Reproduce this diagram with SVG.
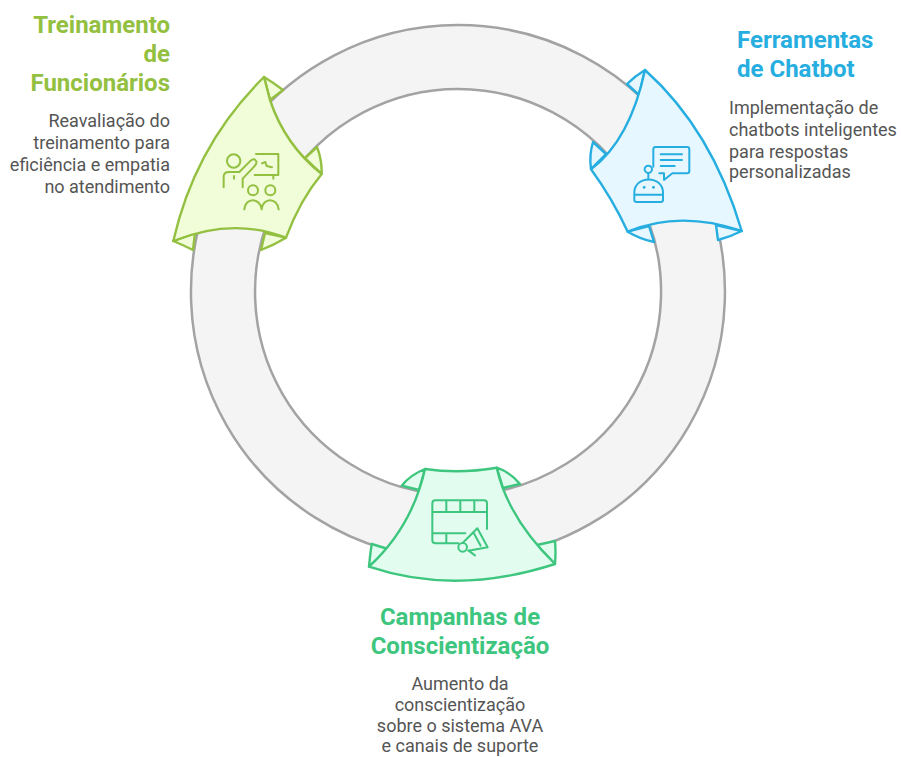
<svg xmlns="http://www.w3.org/2000/svg" width="901" height="757" viewBox="0 0 901 757">
<style>
text{font-family:Roboto,"Liberation Sans",sans-serif}
.t{font-size:24px;font-weight:700}
.b{font-size:18px;fill:#555}
.e{text-anchor:end}.m{text-anchor:middle}
.g{stroke:#93c040;fill:#f0fdd8}.gt{fill:#93c040}
.c{stroke:#27aee0;fill:#e6f7ff}.ct{fill:#27aee0}
.n{stroke:#3ec67f;fill:#e2fdf0}.nt{fill:#3ec67f}
.p{stroke-width:2.4;stroke-linejoin:round;stroke-linecap:round}
.i{fill:none;stroke-width:6;stroke-linecap:round;stroke-linejoin:round}
</style>
<g id="connectors">
<path d="M458 25A267 267 0 1 1 457.9 25ZM458 89A203 203 0 1 0 458.1 89Z" fill="#f4f4f4" fill-rule="evenodd" stroke="#a3a3a3" stroke-width="2.5"/>
</g>
<g id="node-treinamento">
<path class="g p" d="M264 77Q274 83 283 90L270 100ZM317 147Q322 160 321.7 174L305 158ZM173.3 241Q183 245 193 250L195 233ZM286 237.7Q274 245 261 250L265 233Z"/>
<path class="g p" d="M264 77Q195 145 173.3 241Q233 217 286 237.7Q300 200 321.7 174Q285 145 270 100Z"/>
<g class="i" style="stroke:#93c040" transform="translate(160 60) scale(.3333)">
<circle cx="221" cy="303" r="20"/>
<path d="M191 382V350Q191 336 207 336H238L272 302Q283 292 289 304Q291 311 283 319L248 356V382M222 348V356"/>
<path d="M288 282H355V345H284M340 345V356M306 310L316 306L320 318L336 322"/>
<circle cx="279" cy="391" r="15"/><circle cx="331" cy="391" r="15"/>
<path d="M253 448C256 412 300 412 305 448C308 412 352 412 356 448"/>
</g>
<text class="t gt e" x="170" y="33">Treinamento</text>
<text class="t gt e" x="170" y="62">de</text>
<text class="t gt e" x="170" y="91">Funcionários</text>
<text class="b e" x="170" y="127">Reavaliação do</text>
<text class="b e" x="170" y="149">treinamento para</text>
<text class="b e" x="170" y="171">eficiência e empatia</text>
<text class="b e" x="170" y="193">no atendimento</text>
</g>
<g id="node-chatbot">
<path class="c p" d="M645 70Q635 76 627 84L639 95ZM593 142Q589 155 591 169L606 154ZM627.7 231.7Q640 239 654 242L649 226ZM741.7 231Q730 237 718 240L716 225Z"/>
<path class="c p" d="M645 70Q712 130 741.7 231Q680 210 627.7 231.7Q612 198 591 169.3Q630 140 645 70Z"/>
<g class="i" style="stroke:#27aee0" transform="translate(580 60) scale(.3333)">
<path d="M220 320V268Q220 261 227 261H321Q328 261 328 268V333Q328 340 321 340H277L252 360V340H238"/>
<path d="M242 283H306M242 300H306M242 318H284"/>
<circle cx="205" cy="328" r="11"/><path d="M205 339V358"/>
<path d="M163 404V398C163 345 249 345 249 398V404ZM163 404V420Q163 426 170 426H242Q249 426 249 420V404"/>
<path d="M192 382H193M220 382H221" stroke-width="8"/>
</g>
<text class="t ct" x="737" y="48">Ferramentas</text>
<text class="t ct" x="737" y="77">de Chatbot</text>
<text class="b" x="729" y="114">Implementação de</text>
<text class="b" x="729" y="136">chatbots inteligentes</text>
<text class="b" x="729" y="158">para respostas</text>
<text class="b" x="729" y="178">personalizadas</text>
</g>
<g id="node-campanhas">
<path class="n p" d="M425 469Q410 475 401.7 485.7L419 490ZM496.7 467.7Q510 472 520 484L503 488ZM369 566.7Q370 555 371.7 544L388 549ZM555 564Q556 552 555 541L537 545Z"/>
<path class="n p" d="M425 469Q460 474 496.7 467.7Q508 518 555 564Q456 596 369 566.7Q412 527 425 469Z"/>
<g class="i" style="stroke:#3ec67f" transform="translate(360 455) scale(.3333)">
<path d="M295 265H226Q217 265 217 256V145Q217 136 226 136H372Q381 136 381 145V222M217 171H381M217 235H316M259 136V171M301 136V171M343 136V171M259 235V265"/>
<path d="M310 262L352 220L383 277L325 287M340 232L362 272"/>
<circle cx="308" cy="277" r="13"/>
<path d="M326 287L345 301"/>
</g>
<text class="t nt m" x="460" y="625">Campanhas de</text>
<text class="t nt m" x="460" y="654">Conscientização</text>
<text class="b m" x="460" y="690">Aumento da</text>
<text class="b m" x="460" y="711">conscientização</text>
<text class="b m" x="460" y="732">sobre o sistema AVA</text>
<text class="b m" x="460" y="752">e canais de suporte</text>
</g>
</svg>
